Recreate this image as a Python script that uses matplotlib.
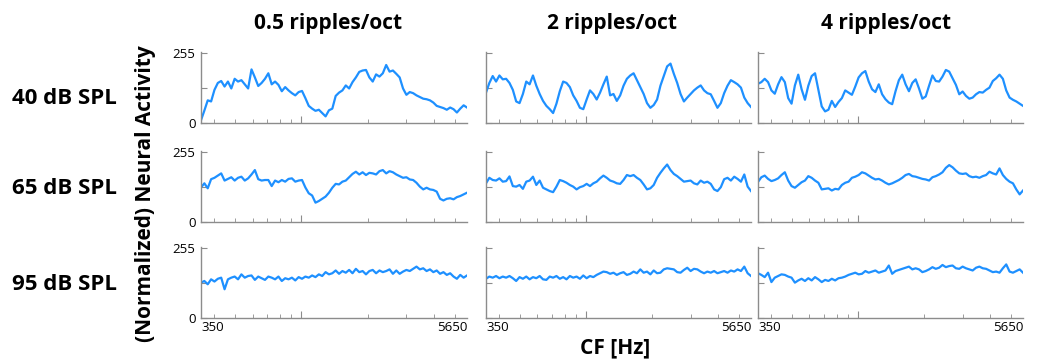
import numpy as np
import matplotlib
matplotlib.use('Agg')
import matplotlib.pyplot as plt
from matplotlib.ticker import FixedLocator, NullFormatter

plt.rcParams['font.family'] = ['Open Sans', 'DejaVu Sans']

ripples = ['0.5 ripples/oct', '2 ripples/oct', '4 ripples/oct']
levels = ['40 dB SPL', '65 dB SPL', '95 dB SPL']

# 80 channels, log-spaced center frequencies
cf = np.geomspace(350, 5650, 80)

# (normalized) neural activity, 0..255
act_40_05 = [10, 45, 82, 78, 120, 145, 152, 132, 150, 125, 160, 150, 155, 140, 125, 194,
             165, 134, 145, 160, 180, 140, 150, 138, 115, 130, 118, 108, 100, 112, 116, 90,
             62, 52, 44, 48, 36, 24, 46, 52, 98, 110, 118, 136, 125, 148, 165, 185,
             190, 192, 165, 150, 176, 168, 180, 210, 186, 190, 178, 165, 125, 102, 112, 108,
             100, 94, 88, 86, 82, 74, 62, 58, 54, 48, 56, 50, 38, 52, 64, 56]
act_40_2 = [110, 145, 170, 150, 172, 158, 160, 145, 120, 78, 72, 105, 150, 140, 172, 135,
            105, 80, 62, 50, 36, 70, 115, 150, 145, 130, 100, 80, 55, 50, 85, 118,
            105, 85, 110, 140, 168, 100, 105, 80, 100, 135, 160, 172, 180, 155, 130, 105,
            72, 55, 65, 85, 135, 170, 205, 215, 178, 145, 105, 78, 92, 105, 118, 128,
            136, 118, 108, 104, 80, 55, 72, 108, 135, 155, 148, 140, 128, 92, 72, 58]
act_40_4 = [142, 148, 160, 148, 118, 106, 140, 166, 148, 90, 70, 136, 175, 122, 84, 135,
            170, 180, 120, 60, 42, 48, 80, 58, 76, 90, 118, 110, 102, 132, 165, 180,
            188, 150, 122, 112, 140, 104, 86, 74, 68, 115, 155, 175, 140, 115, 145, 158,
            125, 88, 96, 135, 172, 152, 150, 168, 192, 186, 162, 138, 104, 114, 98, 88,
            92, 104, 112, 110, 120, 128, 152, 162, 175, 160, 118, 92, 84, 78, 70, 62]
act_65_05 = [125, 140, 122, 155, 160, 168, 176, 150, 156, 162, 150, 160, 164, 150, 158, 172,
             188, 155, 150, 152, 152, 130, 150, 144, 152, 146, 156, 158, 146, 150, 152, 125,
             104, 96, 70, 76, 84, 92, 106, 124, 138, 136, 146, 150, 162, 174, 182, 172,
             180, 170, 178, 176, 172, 184, 188, 176, 184, 180, 172, 166, 160, 162, 154, 152,
             142, 128, 118, 124, 118, 116, 110, 84, 78, 84, 86, 82, 90, 94, 100, 106]
act_65_2 = [140, 160, 152, 150, 158, 146, 148, 165, 130, 128, 134, 120, 146, 150, 164, 134,
            150, 124, 118, 112, 108, 128, 152, 148, 142, 134, 128, 118, 126, 130, 138, 130,
            140, 146, 158, 168, 160, 150, 146, 140, 138, 152, 170, 166, 170, 160, 152, 136,
            118, 122, 134, 160, 178, 194, 208, 188, 174, 166, 156, 146, 148, 150, 140, 136,
            150, 142, 146, 138, 118, 112, 126, 155, 160, 150, 164, 156, 146, 172, 128, 112]
act_65_4 = [145, 162, 168, 156, 148, 152, 158, 170, 180, 150, 130, 124, 134, 144, 150, 166,
            160, 150, 142, 118, 120, 122, 114, 120, 118, 134, 142, 146, 160, 164, 170, 180,
            176, 168, 160, 154, 156, 150, 142, 136, 140, 146, 152, 160, 170, 174, 166, 164,
            160, 156, 154, 150, 162, 166, 172, 180, 196, 206, 198, 186, 176, 174, 176, 166,
            162, 164, 160, 166, 170, 182, 176, 172, 194, 170, 156, 146, 140, 118, 100, 114]
act_95_05 = [128, 134, 122, 140, 132, 142, 146, 104, 140, 146, 150, 140, 158, 146, 152, 154,
             138, 150, 144, 138, 150, 146, 140, 150, 134, 144, 140, 146, 136, 148, 142, 150,
             146, 154, 148, 158, 152, 166, 158, 162, 172, 160, 170, 164, 174, 162, 178, 166,
             170, 158, 170, 174, 162, 172, 166, 170, 176, 160, 172, 160, 168, 174, 170, 178,
             186, 176, 180, 170, 176, 166, 172, 160, 166, 156, 162, 150, 142, 156, 146, 154]
act_95_2 = [142, 150, 146, 152, 144, 150, 146, 152, 144, 134, 148, 142, 150, 140, 148, 144,
            152, 140, 138, 150, 146, 152, 142, 148, 140, 152, 146, 150, 142, 154, 144, 152,
            148, 156, 162, 168, 166, 160, 164, 156, 162, 166, 156, 160, 168, 162, 176, 164,
            168, 158, 172, 162, 164, 176, 180, 178, 176, 166, 164, 174, 182, 170, 178, 176,
            168, 162, 168, 164, 170, 162, 166, 170, 164, 172, 168, 176, 170, 186, 162, 152]
act_95_4 = [162, 156, 148, 164, 130, 146, 152, 158, 156, 150, 146, 128, 136, 142, 134, 144,
            136, 148, 140, 130, 138, 134, 142, 136, 144, 146, 150, 156, 160, 164, 158, 160,
            170, 164, 168, 172, 164, 168, 172, 190, 160, 170, 174, 178, 182, 186, 176, 180,
            176, 166, 170, 176, 184, 178, 182, 192, 184, 188, 190, 180, 178, 186, 180, 176,
            172, 182, 186, 180, 178, 172, 166, 168, 164, 180, 194, 168, 164, 170, 176, 164]

traces = [[act_40_05, act_40_2, act_40_4],
          [act_65_05, act_65_2, act_65_4],
          [act_95_05, act_95_2, act_95_4]]

W, H = 1039, 360
fig = plt.figure(figsize=(W / 100, H / 100), dpi=100)

col_left = [201, 486, 758]
col_w = [266, 265, 265]
row_top = [52, 151, 247]
row_h = 71
spine_col = '#8c8c8c'
line_col = '#1e90ff'

for r in range(3):
    for c in range(3):
        ax = fig.add_axes([col_left[c] / W, 1 - (row_top[r] + row_h) / H,
                           col_w[c] / W, row_h / H])
        ax.plot(cf, traces[r][c], color=line_col, lw=1.6)
        ax.set_xscale('log')
        ax.set_xlim(350, 5650)
        ax.set_ylim(0, 257)
        ax.spines['top'].set_visible(False)
        ax.spines['right'].set_visible(False)
        for s in ['left', 'bottom']:
            ax.spines[s].set_color(spine_col)
            ax.spines[s].set_linewidth(1.0)
        ax.set_yticks([0, 127.5, 255])
        if c == 0:
            ax.set_yticklabels(['0', '', '255'], fontsize=9.5)
        else:
            ax.set_yticklabels([])
        ax.xaxis.set_major_locator(FixedLocator([1000]))
        ax.xaxis.set_major_formatter(NullFormatter())
        ax.xaxis.set_minor_formatter(NullFormatter())
        ax.tick_params(axis='both', which='both', direction='in',
                       color=spine_col, labelcolor='black')
        ax.tick_params(axis='x', which='major', length=5)
        ax.tick_params(axis='x', which='minor', length=3)
        ax.tick_params(axis='y', length=4, pad=4)
        if r == 2:
            tr = ax.get_xaxis_transform()
            ax.text(350, -0.04, '350', transform=tr, ha='left', va='top', fontsize=9.5)
            ax.text(5650, -0.04, '5650', transform=tr, ha='right', va='top', fontsize=9.5)

title_x = [328, 612, 886]
for c in range(3):
    fig.text(title_x[c] / W, 1 - 24 / H, ripples[c], ha='center', va='center',
             fontsize=15, fontweight='bold')

label_y = [99, 188, 284]
for r in range(3):
    fig.text(12 / W, 1 - label_y[r] / H, levels[r], ha='left', va='center',
             fontsize=16, fontweight='bold')

fig.text(146 / W, 1 - 194 / H, '(Normalized) Neural Activity', rotation=90,
         ha='center', va='center', fontsize=15, fontweight='bold')
fig.text(615 / W, 1 - 348 / H, 'CF [Hz]', ha='center', va='center',
         fontsize=15, fontweight='bold')

fig.savefig('out.png', dpi=100)
